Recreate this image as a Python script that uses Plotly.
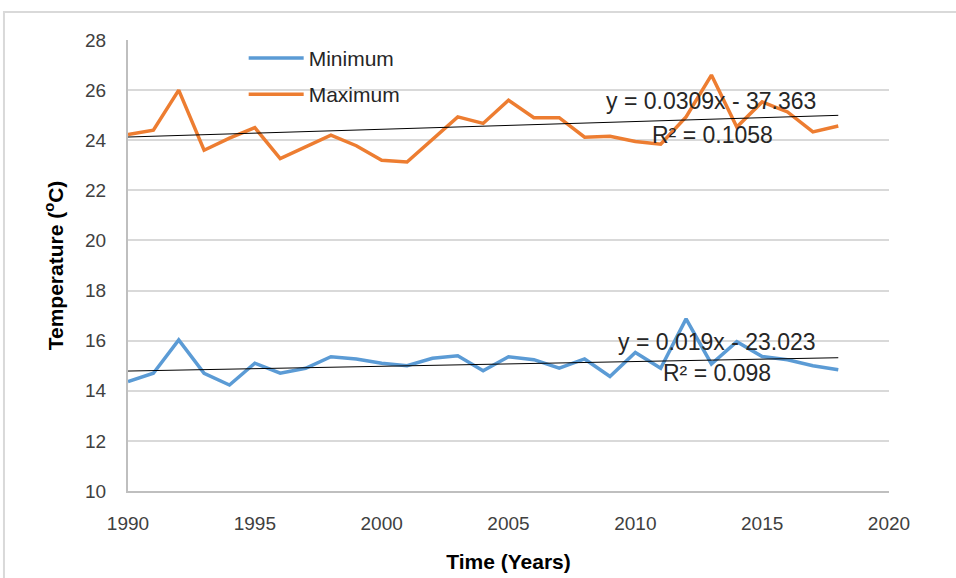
import numpy as np
import plotly.graph_objects as go

# Annual mean temperatures (°C)
years = list(range(1990, 2019))
t_min = [14.37, 14.70, 16.03, 14.70, 14.23, 15.10, 14.70, 14.90, 15.36, 15.27,
         15.10, 15.00, 15.30, 15.40, 14.80, 15.36, 15.24, 14.90, 15.27, 14.57,
         15.53, 14.90, 16.87, 15.07, 15.96, 15.37, 15.24, 15.00, 14.84]
t_max = [24.23, 24.40, 26.00, 23.60, 24.08, 24.50, 23.27, 23.75, 24.20, 23.78,
         23.20, 23.13, 24.05, 24.93, 24.67, 25.60, 24.90, 24.90, 24.12, 24.16,
         23.95, 23.84, 24.93, 26.60, 24.53, 25.53, 25.13, 24.33, 24.57]

# Linear trend coefficients (slope, intercept) and R² values
min_fit = (0.019, -23.023)
max_fit = (0.0309, -37.363)
min_r2 = "0.098"
max_r2 = "0.1058"

x_ticks = [1990, 1995, 2000, 2005, 2010, 2015, 2020]
y_ticks = [10, 12, 14, 16, 18, 20, 22, 24, 26, 28]

BLUE = "#5b9bd5"
ORANGE = "#ed7d31"
FONT = "Liberation Sans Narrow, Liberation Sans, Arial, sans-serif"

yr = np.array(years, dtype=float)

fig = go.Figure()
fig.add_trace(go.Scatter(x=years, y=t_min, mode="lines", name="Minimum",
                         legendgroup="a",
                         line=dict(color=BLUE, width=3.5)))
fig.add_trace(go.Scatter(x=years, y=t_max, mode="lines", name="Maximum",
                         legendgroup="b",
                         line=dict(color=ORANGE, width=3.5)))

for slope, icpt in (min_fit, max_fit):
    fig.add_trace(go.Scatter(x=[yr[0], yr[-1]],
                             y=[slope * yr[0] + icpt, slope * yr[-1] + icpt],
                             mode="lines", showlegend=False,
                             line=dict(color="black", width=1)))

def fit_label(slope, icpt):
    return f"y = {slope}x - {abs(icpt)}"

ann_font = dict(family=FONT, size=23, color="#262626")
annotations = [
    dict(x=2013.0, y=25.55, text=fit_label(*max_fit), showarrow=False, font=ann_font),
    dict(x=2013.05, y=24.2, text=f"R² = {max_r2}", showarrow=False, font=ann_font),
    dict(x=2013.2, y=15.95, text=fit_label(*min_fit), showarrow=False, font=ann_font),
    dict(x=2013.2, y=14.7, text=f"R² = {min_r2}", showarrow=False, font=ann_font),
]

fig.update_layout(
    width=956, height=578,
    margin=dict(l=128, r=67, t=40, b=87),
    paper_bgcolor="white", plot_bgcolor="white",
    font=dict(family=FONT, size=19, color="#404040"),
    showlegend=True,
    legend=dict(x=0.152, y=1.005, xanchor="left", yanchor="top",
                bgcolor="rgba(0,0,0,0)", tracegroupgap=6,
                font=dict(family=FONT, size=21, color="#262626"),
                itemwidth=55),
    annotations=annotations,
    xaxis=dict(range=[1990, 2020], tickvals=x_ticks, showgrid=False,
               showline=True, linecolor="#bfbfbf", linewidth=2,
               ticks="", zeroline=False, ticklabelstandoff=14,
               automargin=False,
               title=dict(text="<b>Time (Years)</b>", standoff=22,
                          font=dict(family=FONT, size=21, color="black"))),
    yaxis=dict(range=[10, 28], tickvals=y_ticks, showgrid=True,
               gridcolor="#d9d9d9", gridwidth=2,
               showline=True, linecolor="#bfbfbf", linewidth=2,
               ticks="", zeroline=False, ticklabelstandoff=16,
               automargin=False,
               title=dict(text="<b>Temperature (<sup>o</sup>C)</b>", standoff=16,
                          font=dict(family=FONT, size=21, color="black"))),
    shapes=[dict(type="rect", xref="paper", yref="paper",
                 x0=-0.163, x1=1.2, y0=-0.3, y1=1.062,
                 line=dict(color="#d9d9d9", width=2), layer="below")],
)

fig.write_html("out.html")
